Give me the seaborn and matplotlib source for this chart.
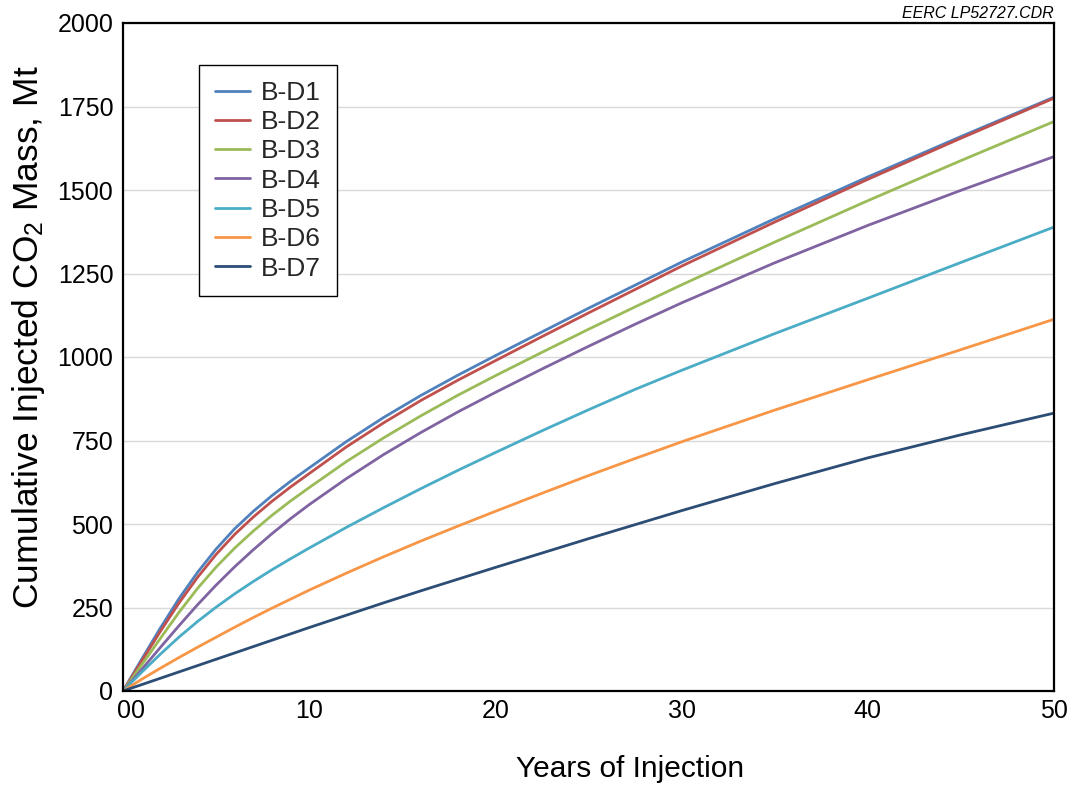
import numpy as np
import pandas as pd
import matplotlib
matplotlib.use("Agg")
import matplotlib.pyplot as plt
import matplotlib.transforms as mtransforms
import seaborn as sns

# ---- data ----
years = [0, 1, 2, 3, 4, 5, 6, 7, 8, 9, 10, 12, 14, 16, 18, 20, 22.5, 25, 27.5, 30, 35, 40, 45, 50]
bd1 = [0, 95, 188, 276, 355, 425, 486, 538, 585, 628, 668, 747, 819, 885, 946, 1004, 1075, 1146, 1215, 1284, 1414, 1539, 1660, 1778]
bd2 = [0, 89, 178, 263, 340, 409, 469, 521, 568, 611, 651, 731, 803, 870, 931, 989, 1061, 1132, 1202, 1272, 1404, 1532, 1655, 1775]
bd3 = [0, 78, 157, 235, 307, 371, 428, 479, 526, 569, 609, 687, 758, 824, 886, 944, 1014, 1083, 1150, 1216, 1344, 1468, 1588, 1705]
bd4 = [0, 64, 130, 195, 258, 317, 372, 423, 471, 516, 558, 636, 708, 774, 836, 894, 964, 1032, 1098, 1162, 1282, 1394, 1499, 1600]
bd5 = [0, 56, 110, 161, 208, 251, 291, 328, 363, 396, 428, 490, 549, 606, 661, 714, 779, 842, 903, 960, 1070, 1176, 1283, 1389]
bd6 = [0, 35, 68, 100, 131, 161, 191, 220, 248, 275, 302, 353, 402, 449, 494, 538, 592, 645, 696, 746, 841, 932, 1022, 1113]
bd7 = [0, 19, 38, 57, 76, 95, 114, 133, 152, 171, 190, 227, 264, 300, 335, 370, 413, 456, 498, 540, 621, 698, 767, 832]

series_names = ["B-D1", "B-D2", "B-D3", "B-D4", "B-D5", "B-D6", "B-D7"]
series_values = [bd1, bd2, bd3, bd4, bd5, bd6, bd7]
colors = ["#4F81BD", "#C0504D", "#9BBB59", "#8064A2", "#4BACC6", "#F79646", "#2C4D75"]

x_ticks = [0, 10, 20, 30, 40, 50]
x_tick_labels = ["00", "10", "20", "30", "40", "50"]
y_ticks = [0, 250, 500, 750, 1000, 1250, 1500, 1750, 2000]

df = pd.concat(
    [pd.DataFrame({"Years": years, "Mass": vals, "Case": name})
     for name, vals in zip(series_names, series_values)],
    ignore_index=True,
)

sns.set_theme(style="white")
plt.rcParams["font.family"] = ["Liberation Sans", "DejaVu Sans"]
plt.rcParams["mathtext.fontset"] = "custom"
plt.rcParams["mathtext.rm"] = "Liberation Sans"
plt.rcParams["mathtext.it"] = "Liberation Sans:italic"

fig = plt.figure(figsize=(10.8, 7.9), dpi=100)
ax = fig.add_axes([123 / 1080, 99 / 790, 931 / 1080, 668 / 790])

sns.lineplot(data=df, x="Years", y="Mass", hue="Case", hue_order=series_names,
             palette=colors, linewidth=2.0, ax=ax, estimator=None, sort=True)

ax.set_xlim(0, 50)
ax.set_ylim(0, 2000)
ax.set_xticks(x_ticks)
ax.set_xticklabels(x_tick_labels)
ax.set_yticks(y_ticks)
ax.tick_params(axis="both", length=0, labelsize=18, colors="black", pad=6)
ax.tick_params(axis="y", pad=7)

# the "00" label sits slightly right of the axis origin in the reference
lbl0 = ax.get_xticklabels()[0]
lbl0.set_transform(lbl0.get_transform() + mtransforms.ScaledTranslation(8 / 100, 0, fig.dpi_scale_trans))

ax.yaxis.grid(True, color="#D9D9D9", linewidth=1.0)
ax.xaxis.grid(False)
ax.set_axisbelow(True)
for sp in ax.spines.values():
    sp.set_color("black")
    sp.set_linewidth(1.6)

ax.set_xlabel("Years of Injection", fontsize=21.5, color="black")
ax.xaxis.set_label_coords((630 - 123) / 931, (691 - 755) / 668)
ax.set_ylabel("Cumulative Injected CO$_2$ Mass, Mt", fontsize=25.5, color="black")
ax.yaxis.set_label_coords((47 - 123) / 931, (691 - 337) / 668)

handles, labels = ax.get_legend_handles_labels()
leg = ax.legend(handles, labels, loc="upper left", bbox_to_anchor=(76 / 931, (691 - 65) / 668),
                borderaxespad=0, fontsize=19, frameon=True, fancybox=False, framealpha=1,
                edgecolor="black", handlelength=1.33, handletextpad=0.42, labelspacing=0.2,
                borderpad=0.6)
leg.get_frame().set_linewidth(1.0)
for line in leg.get_lines():
    line.set_linewidth(2.0)

fig.text(1054 / 1080, 1 - 14 / 790, "EERC LP52727.CDR", ha="right", va="center",
         fontsize=11.5, style="italic", color="black")

fig.savefig("out.png", dpi=100)
